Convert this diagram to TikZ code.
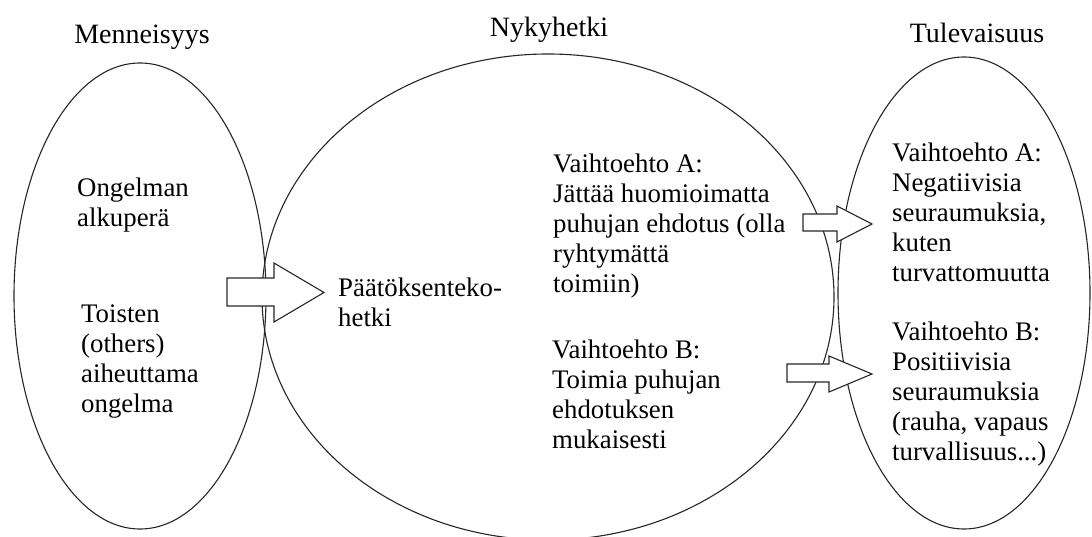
\documentclass[tikz,border=0pt]{standalone}
\usepackage{fontspec}
\setmainfont{Liberation Serif}
\usetikzlibrary{shapes.geometric}
\tikzset{
  oval/.style={draw=black!85, line width=1.1pt, ellipse, inner sep=0pt},
  title/.style={font=\fontsize{28}{32}\selectfont, anchor=base, inner sep=0pt},
  body/.style={font=\fontsize{26.8}{30}\selectfont, align=left, anchor=north west, inner sep=0pt},
  blockarr/.style={draw=black!85, fill=white, line width=1.1pt, line join=miter}
}
\begin{document}
\begin{tikzpicture}[x=1pt,y=-1pt]
\useasboundingbox (0,0) rectangle (1092,537);
% ellipses
\node[oval, minimum width=252pt, minimum height=466pt] (past) at (140,296) {};
\node[oval, minimum width=572pt, minimum height=486pt] (now) at (548,297) {};
\node[oval, minimum width=252pt, minimum height=472pt] (future) at (964,293) {};
% titles
\node[title] (tpast) at (142,44) {Menneisyys};
\node[title] (tnow) at (549,37) {Nykyhetki};
\node[title] (tfut) at (977,43) {Tulevaisuus};
% block arrows
\draw[blockarr] (227,278) -- (274,278) -- (274,263) -- (324,292.5) -- (274,322) -- (274,306) -- (227,306) -- cycle;
\draw[blockarr] (803,214) -- (837,214) -- (837,206) -- (872,224) -- (837,242) -- (837,231) -- (803,231) -- cycle;
\draw[blockarr] (787,364) -- (829,364) -- (829,356) -- (872,374) -- (829,392) -- (829,382) -- (787,382) -- cycle;
% texts
\node[body] (origin) at (77,177.7) {Ongelman\\alkuperä};
\node[body] (others) at (81,304.7) {Toisten\\(others)\\aiheuttama\\ongelma};
\node[body] (decide) at (338,278) {Päätöksenteko-\\hetki};
\node[body] (nowA) at (553,153.7) {Vaihtoehto A:\\Jättää huomioimatta\\puhujan ehdotus (olla\\ryhtymättä\\toimiin)};
\node[body] (nowB) at (552,339.7) {Vaihtoehto B:\\Toimia puhujan\\ehdotuksen\\mukaisesti};
\node[body] (futA) at (892,142.7) {Vaihtoehto A:\\Negatiivisia\\seuraumuksia,\\kuten\\turvattomuutta};
\node[body] (futB) at (892,321.7) {Vaihtoehto B:\\Positiivisia\\seuraumuksia\\(rauha, vapaus\\turvallisuus...)};
\end{tikzpicture}
\end{document}
